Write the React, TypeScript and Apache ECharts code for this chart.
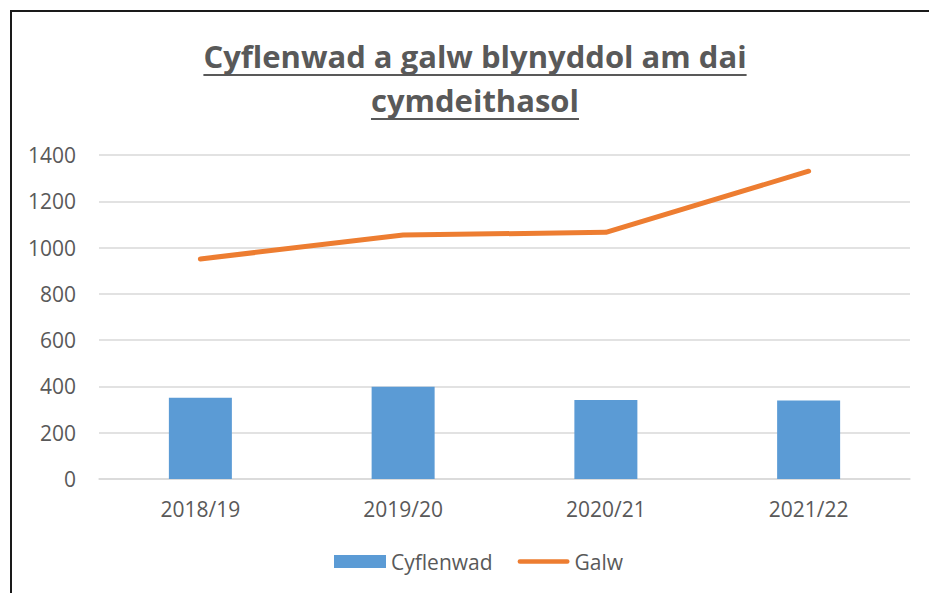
import React, { useEffect, useRef } from "react";
import * as echarts from "echarts";

const categories = ["2018/19", "2019/20", "2020/21", "2021/22"];
const supply = [351, 399, 341, 339];
const demand = [951, 1054, 1066, 1330];
const yTicks = { min: 0, max: 1400, interval: 200 };
const titleLines = ["Cyflenwad a galw blynyddol am dai", "cymdeithasol"];

const FONT = "'Open Sans', 'Noto Sans', sans-serif";
const TITLE_SIZE = 31;

function measure(text: string, font: string): number {
  const c = document.createElement("canvas").getContext("2d");
  if (!c) return text.length * 16;
  c.font = font;
  return c.measureText(text).width;
}

export default function App() {
  const ref = useRef<HTMLDivElement>(null);
  useEffect(() => {
    if (!ref.current) return;
    const chart = echarts.init(ref.current, undefined, { renderer: "svg" });
    const cx = 475;
    const titleFont = `bold ${TITLE_SIZE}px 'Open Sans'`;
    const lineYs = [56, 100];
    const underlineYs = [74, 118];
    const graphics: any[] = [
      { type: "rect", shape: { x: 10, y: 10, width: 919, height: 2 }, style: { fill: "#1a1a1a" } },
      { type: "rect", shape: { x: 10, y: 10, width: 2, height: 583 }, style: { fill: "#1a1a1a" } },
    ];
    titleLines.forEach((t, i) => {
      const w = measure(t, titleFont);
      graphics.push({
        type: "text",
        x: cx,
        y: lineYs[i],
        style: {
          text: t,
          fill: "#595959",
          font: `bold ${TITLE_SIZE}px ${FONT}`,
          textAlign: "center",
          textVerticalAlign: "middle",
        },
      });
      graphics.push({
        type: "rect",
        shape: { x: cx - w / 2, y: underlineYs[i], width: w, height: 2 },
        style: { fill: "#595959" },
      });
    });
    chart.setOption({
      animation: false,
      graphic: graphics,
      grid: { left: 99, right: 19, top: 155, bottom: 114, containLabel: false },
      legend: {
        left: 329,
        top: 546,
        itemWidth: 52,
        itemHeight: 13,
        itemGap: 25,
        textStyle: { color: "#595959", fontSize: 21, fontFamily: FONT },
        data: [
          { name: "Cyflenwad", icon: "rect" },
          {
            name: "Galw",
            icon: "path://M2.5,0 L52.5,0 A2.5,2.5 0 0 1 52.5,5 L2.5,5 A2.5,2.5 0 0 1 2.5,0 Z",
          },
        ],
      },
      xAxis: {
        type: "category",
        data: categories,
        boundaryGap: true,
        axisLine: { show: true, lineStyle: { color: "#D9D9D9", width: 1.5 } },
        axisTick: { show: false },
        axisLabel: { color: "#595959", fontSize: 21, fontFamily: FONT, margin: 19 },
      },
      yAxis: {
        type: "value",
        min: yTicks.min,
        max: yTicks.max,
        interval: yTicks.interval,
        axisLine: { show: false },
        axisTick: { show: false },
        axisLabel: {
          color: "#595959",
          fontSize: 21,
          fontFamily: FONT,
          margin: 23,
          formatter: (v: number) => String(v),
        },
        splitLine: { lineStyle: { color: "#D9D9D9", width: 1.5 } },
      },
      series: [
        {
          name: "Cyflenwad",
          type: "bar",
          data: supply,
          barWidth: 63,
          itemStyle: { color: "#5B9BD5" },
        },
        {
          name: "Galw",
          type: "line",
          data: demand,
          symbol: "none",
          lineStyle: { color: "#ED7D31", width: 5, cap: "round", join: "round" },
          itemStyle: { color: "#ED7D31" },
        },
      ],
    });
    return () => chart.dispose();
  }, []);
  return (
    <div
      ref={ref}
      style={{ position: "fixed", left: 0, top: 0, width: 929, height: 593, background: "#fff" }}
    />
  );
}
